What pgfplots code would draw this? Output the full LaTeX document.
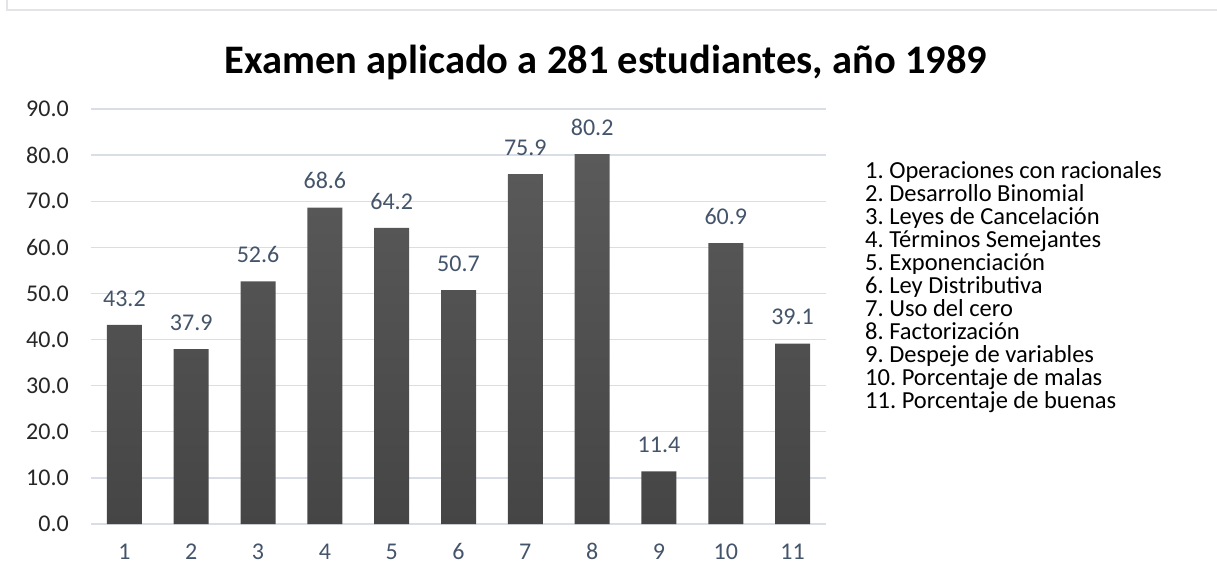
\documentclass[border=0pt]{standalone}
\usepackage{fontspec}
\setmainfont{Carlito}
\usepackage{pgfplots}
\pgfplotsset{compat=1.18}
\definecolor{bartop}{HTML}{5A5A5A}
\definecolor{barbot}{HTML}{454545}
\definecolor{gridc}{HTML}{D9DEE6}
\definecolor{lblc}{HTML}{44546A}
\definecolor{framec}{HTML}{E3E3E8}
\frenchspacing

\begin{document}
\begin{tikzpicture}
  \path[use as bounding box] (0pt,0pt) rectangle (1217pt,581pt);
  % chart frame (top and left only visible)
  \draw[framec, line width=1.5pt] (7pt,581pt) -- (7pt,571pt) -- (1217pt,571pt);

  \node[font=\fontsize{40.5}{48}\selectfont\bfseries, anchor=center] at (606pt,519pt)
    {Examen aplicado a 281 estudiantes, año 1989};

  \begin{axis}[
    at={(91pt,57pt)}, anchor=south west,
    scale only axis, width=735pt, height=415pt,
    xmin=0.5, xmax=11.5, ymin=0, ymax=90,
    axis line style={draw=none},
    ybar, bar width=35pt,
    xtick={1,...,11}, ytick={0,10,...,90},
    ymajorgrids, major grid style={gridc, line width=1.3pt},
    tick style={draw=none},
    x tick label style={font=\fontsize{24}{28}\selectfont, text=lblc,
      anchor=base, inner sep=0pt, yshift=-31pt},
    y tick label style={font=\fontsize{24}{28}\selectfont, text=black!85,
      anchor=east, inner sep=0pt, xshift=-22pt},
    /pgf/number format/assume math mode=true,
    yticklabel style={/pgf/number format/.cd, fixed, fixed zerofill, precision=1},
    nodes near coords,
    nodes near coords style={font=\fontsize{24}{28}\selectfont, text=lblc, yshift=15pt,
      /pgf/number format/.cd, fixed, fixed zerofill, precision=1},
  ]
  \addplot[draw=none, top color=bartop, bottom color=barbot] coordinates {
    (1,43.2) (2,37.9) (3,52.6) (4,68.6) (5,64.2) (6,50.7)
    (7,75.9) (8,80.2) (9,11.4) (10,60.9) (11,39.1)
  };
  \end{axis}

  \foreach \t [count=\i] in {
    1. Operaciones con racionales,
    2. Desarrollo Binomial,
    3. Leyes de Cancelación,
    4. Términos Semejantes,
    5. Exponenciación,
    6. Ley Distributiva,
    7. Uso del cero,
    8. Factorización,
    9. Despeje de variables,
    10. Porcentaje de malas,
    11. Porcentaje de buenas}
  {
    \node[font=\fontsize{24.5}{28}\selectfont, anchor=base west, inner sep=0pt]
      at (865pt,{(581-179-23*(\i-1))*1pt}) {\t};
  }
\end{tikzpicture}
\end{document}
